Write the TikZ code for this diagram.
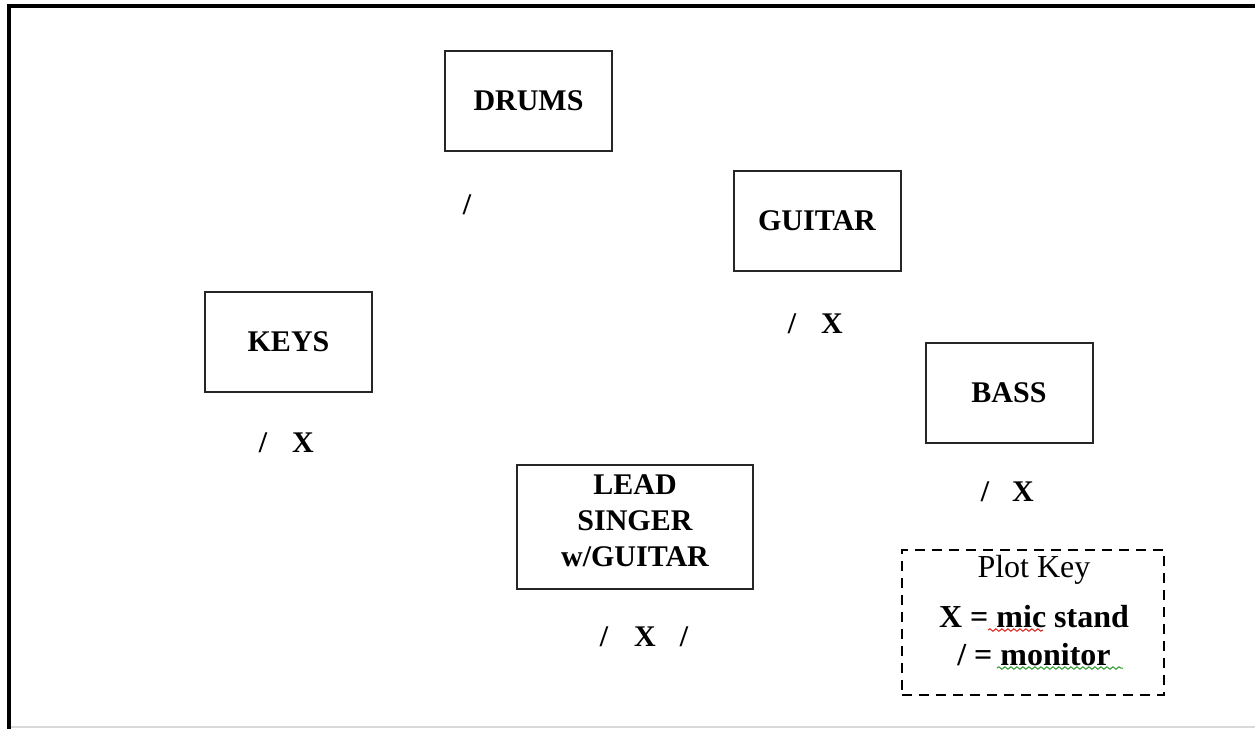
\documentclass[tikz,border=0pt]{standalone}
\usepackage{fontspec}
\setmainfont{Liberation Serif}
\usepackage{tikz}
\usetikzlibrary{decorations.pathmorphing}
\usetikzlibrary{positioning}
\definecolor{spellRed}{HTML}{E0201A}
\definecolor{spellGreen}{HTML}{2E9A2E}

\begin{document}
\begin{tikzpicture}[x=0.5pt,y=-0.5pt]
\tikzset{InstrBox/.style={
  draw=black!85,
  line width=1pt,
  rectangle,
  align=center,
  inner sep=0pt,
  minimum width=83.5pt,
  minimum height=50pt,
  font=\fontsize{15}{18}\selectfont\bfseries,
}}
\tikzset{GearMark/.style={
  inner sep=0pt,
  font=\fontsize{15}{18}\selectfont\bfseries,
}}
\tikzset{KeyLine/.style={
  inner sep=0pt,
  font=\fontsize{16}{19}\selectfont,
}}
\tikzset{SpellLine/.style={
  line width=0.5pt,
  decorate,
  decoration={snake, amplitude=0.6pt, segment length=3pt},
}}

% page and frame
\useasboundingbox (0,0) rectangle (1255,729);
\fill[white] (0,0) rectangle (1255,729);
\draw[black!15, line width=1pt] (10,727) -- (1255,727);
\draw[black, line width=1.8pt] (9,729) -- (9,6) -- (1255,6);

% instruments
\node[InstrBox] (drums) at (528.5,101) {DRUMS};
\node[InstrBox] (guitar) at (817,221) {GUITAR};
\node[InstrBox] (keys) at (288.5,341.5) {KEYS};
\node[InstrBox] (bass) at (1009,392.5) {BASS};
\node[InstrBox, minimum width=118pt, minimum height=62pt] (lead) at (635,527) {};
\node[GearMark, align=center] (leadText) at (635,521) {LEAD\\SINGER\\w/GUITAR};

% monitors and mic stands
\node[GearMark] (drumsMon) at (467,205) {/};
\node[GearMark] (guitarMon) at (792,324) {/};
\node[GearMark] (guitarMic) at (832,324) {X};
\node[GearMark] (keysMon) at (263,443) {/};
\node[GearMark] (keysMic) at (303,443) {X};
\node[GearMark] (bassMon) at (985,492) {/};
\node[GearMark] (bassMic) at (1023,492) {X};
\node[GearMark] (leadMonL) at (604,637) {/};
\node[GearMark] (leadMic) at (645,637) {X};
\node[GearMark] (leadMonR) at (684,637) {/};

% plot key
\node[draw, line width=0.75pt, dash pattern=on 5pt off 3.5pt,
      minimum width=131pt, minimum height=72.5pt] (plotKey) at (1033,622.5) {};
\node[KeyLine] (keyTitle) at (1034,570) {Plot Key};
\node[KeyLine, font=\fontsize{16}{19}\selectfont\bfseries] (keyMic) at (1034,617) {X = mic stand};
\node[KeyLine, font=\fontsize{16}{19}\selectfont\bfseries] (keyMon) at (1034,655) {/ = monitor};
\draw[SpellLine, spellRed] (988,630) -- (1043,630);
\draw[SpellLine, spellGreen] (997,668) -- (1123,668);
\end{tikzpicture}
\end{document}
